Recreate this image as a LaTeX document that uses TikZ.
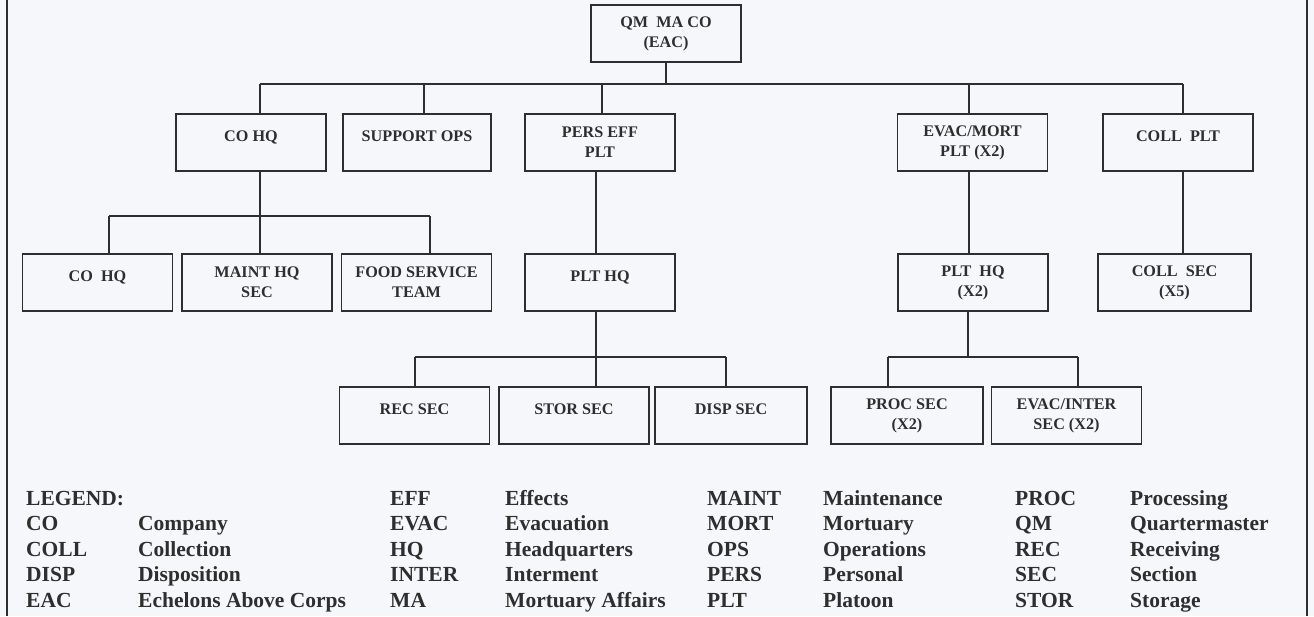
\documentclass[tikz,border=0pt]{standalone}
\usepackage{fontspec}
\setmainfont{Liberation Serif}
\usetikzlibrary{calc}
\definecolor{ink}{HTML}{2E2E2E}
\definecolor{paper}{HTML}{F5F7FA}
\newcommand{\chartfont}{\fontsize{16.2}{20}\selectfont\bfseries}
\newcommand{\legfont}{\fontsize{21.5}{25}\selectfont\bfseries}
\begin{document}
\begin{tikzpicture}[x=1pt,y=-1pt,
    box/.style={draw=ink,line width=1.2pt,minimum width=150pt,minimum height=57pt,inner sep=0pt,align=center,font=\chartfont,text=ink},
    oneline/.style={text depth=12pt},
    con/.style={draw=ink,line width=1.2pt},
    leg/.style={anchor=base west,inner sep=0pt,font=\legfont,text=ink}]
    \fill[paper](0,0)rectangle(1314,616);
    \useasboundingbox(0,0)rectangle(1314,616);
    \draw[con](7,0)--(7,616);
    \draw[con](1307,0)--(1307,616);
    % company
    \node[box](qm)at(666,33.5){QM\ \ MA CO\\(EAC)};
    \node[box,oneline](cohq)at(251,142.5){CO HQ};
    \node[box,oneline,minimum width=148pt](supops)at(417,142.5){SUPPORT OPS};
    \node[box](persplt)at(600,142.5){PERS EFF\\PLT};
    \node[box](evacplt)at(972.5,142.5){EVAC/MORT\\PLT (X2)};
    \node[box,oneline](collplt)at(1178,142.5){COLL\ \ PLT};
    % headquarters and platoons
    \node[box,oneline](cohqb)at(97.5,282.5){CO\ \ HQ};
    \node[box](maint)at(257,282.5){MAINT HQ\\SEC};
    \node[box](food)at(416.5,282.5){FOOD SERVICE\\TEAM};
    \node[box,oneline](plthq)at(600,282.5){PLT HQ};
    \node[box](plthqb)at(973,282.5){PLT\ \ HQ\\(X2)};
    \node[box,minimum width=153pt](collsec)at(1174.5,282.5){COLL\ \ SEC\\(X5)};
    % sections
    \node[box,oneline](rec)at(414.5,415.5){REC SEC};
    \node[box,oneline](stor)at(574,415.5){STOR SEC};
    \node[box,oneline,minimum width=152pt](disp)at(731,415.5){DISP SEC};
    \node[box,minimum width=152pt](proc)at(907,415.5){PROC SEC\\(X2)};
    \node[box](evacsec)at(1066.5,415.5){EVAC/INTER\\SEC (X2)};
    \coordinate(bus1)at(0,84);
    \coordinate(bus2)at(0,216);
    \coordinate(bus3)at(0,357);
    % top level
    \draw[con](qm.south)--(qm.south|-bus1);
    \draw[con]($(cohq.north|-bus1)+(9,0)$)--($(collplt.north|-bus1)+(5,0)$);
    \foreach \c/\s in {cohq/9,supops/7,persplt/2,evacplt/-3.5,collplt/5}
        \draw[con]($(\c.north|-bus1)+(\s,0)$)--($(\c.north)+(\s,0)$);
    % co hq
    \draw[con]($(cohq.south)+(9,0)$)--($(maint.north)+(3,0)$);
    \draw[con]($(cohqb.north|-bus2)+(11.5,0)$)--($(food.north|-bus2)+(13.5,0)$);
    \draw[con]($(cohqb.north|-bus2)+(11.5,0)$)--($(cohqb.north)+(11.5,0)$);
    \draw[con]($(food.north|-bus2)+(13.5,0)$)--($(food.north)+(13.5,0)$);
    % platoons
    \draw[con]($(persplt.south)+(-4,0)$)--($(plthq.north)+(-4,0)$);
    \draw[con]($(evacplt.south)+(-3.5,0)$)--($(plthqb.north)+(-4,0)$);
    \draw[con]($(collplt.south)+(5,0)$)--($(collsec.north)+(8.5,0)$);
    % sections
    \draw[con]($(plthq.south)+(-4,0)$)--($(stor.north)+(22,0)$);
    \draw[con]($(rec.north|-bus3)+(0.5,0)$)--($(disp.north|-bus3)+(-5,0)$);
    \draw[con]($(rec.north|-bus3)+(0.5,0)$)--($(rec.north)+(0.5,0)$);
    \draw[con]($(disp.north|-bus3)+(-5,0)$)--($(disp.north)+(-5,0)$);
    \draw[con]($(plthqb.south)+(-5,0)$)--($(plthqb.south|-bus3)+(-5,0)$);
    \draw[con]($(proc.north|-bus3)+(-19,0)$)--($(evacsec.north|-bus3)+(11.5,0)$);
    \draw[con]($(proc.north|-bus3)+(-19,0)$)--($(proc.north)+(-19,0)$);
    \draw[con]($(evacsec.north|-bus3)+(11.5,0)$)--($(evacsec.north)+(11.5,0)$);
    % legend
    \foreach \a/\d [count=\i from 0] in {LEGEND:/,CO/Company,COLL/Collection,DISP/Disposition,EAC/Echelons Above Corps}{
        \node[leg](la\i)at(26,505+25.5*\i){\a};
        \node[leg](da\i)at(138,505+25.5*\i){\d};}
    \foreach \a/\d [count=\i from 0] in {EFF/Effects,EVAC/Evacuation,HQ/Headquarters,INTER/Interment,MA/Mortuary Affairs}{
        \node[leg](lb\i)at(390,505+25.5*\i){\a};
        \node[leg](db\i)at(505,505+25.5*\i){\d};}
    \foreach \a/\d [count=\i from 0] in {MAINT/Maintenance,MORT/Mortuary,OPS/Operations,PERS/Personal,PLT/Platoon}{
        \node[leg](lc\i)at(707,505+25.5*\i){\a};
        \node[leg](dc\i)at(823,505+25.5*\i){\d};}
    \foreach \a/\d [count=\i from 0] in {PROC/Processing,QM/Quartermaster,REC/Receiving,SEC/Section,STOR/Storage}{
        \node[leg](ld\i)at(1015,505+25.5*\i){\a};
        \node[leg](dd\i)at(1130,505+25.5*\i){\d};}
\end{tikzpicture}
\end{document}
